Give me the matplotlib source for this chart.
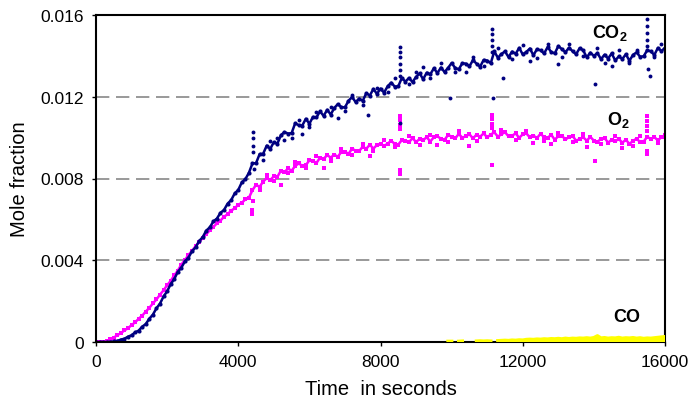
import numpy as np
import matplotlib
matplotlib.use("Agg")
import matplotlib.pyplot as plt

plt.rcParams['font.family'] = ['Liberation Sans', 'DejaVu Sans']
plt.rcParams['mathtext.fontset'] = 'custom'
plt.rcParams['mathtext.rm'] = 'Liberation Sans'
plt.rcParams['mathtext.bf'] = 'Liberation Sans:bold'

# =========================
# Data (mole fraction in units of 1e-5)
# =========================
time_s = [
    0, 100, 200, 300, 400, 500, 600, 700, 800, 900,
    1000, 1100, 1200, 1300, 1400, 1500, 1600, 1700, 1800, 1900,
    2000, 2100, 2200, 2300, 2400, 2500, 2600, 2700, 2800, 2900,
    3000, 3100, 3200, 3300, 3400, 3500, 3600, 3700, 3800, 3900,
    4000, 4100, 4200, 4300, 4400, 4500, 4600, 4700, 4800, 4900,
    5000, 5100, 5200, 5300, 5400, 5500, 5600, 5700, 5800, 5900,
    6000, 6100, 6200, 6300, 6400, 6500, 6600, 6700, 6800, 6900,
    7000, 7100, 7200, 7300, 7400, 7500, 7600, 7700, 7800, 7900,
    8000, 8100, 8200, 8300, 8400, 8500, 8600, 8700, 8800, 8900,
    9000, 9100, 9200, 9300, 9400, 9500, 9600, 9700, 9800, 9900,
    10000, 10100, 10200, 10300, 10400, 10500, 10600, 10700, 10800, 10900,
    11000, 11100, 11200, 11300, 11400, 11500, 11600, 11700, 11800, 11900,
    12000, 12100, 12200, 12300, 12400, 12500, 12600, 12700, 12800, 12900,
    13000, 13100, 13200, 13300, 13400, 13500, 13600, 13700, 13800, 13900,
    14000, 14100, 14200, 14300, 14400, 14500, 14600, 14700, 14800, 14900,
    15000, 15100, 15200, 15300, 15400, 15500, 15600, 15700, 15800, 15900,
    16000,
]

co2 = [
    0, 0, 0, 0, 1, 3, 5, 12, 16, 26,
    33, 47, 56, 75, 88, 114, 134, 165, 188, 223,
    248, 283, 308, 343, 364, 394, 413, 444, 463, 494,
    513, 545, 561, 590, 604, 632, 646, 677, 694, 727,
    744, 781, 797, 828, 874, 875, 919, 921, 961, 945,
    978, 970, 1012, 1027, 1020, 1022, 1070, 1061, 1059, 1092,
    1068, 1101, 1099, 1129, 1106, 1136, 1113, 1145, 1164, 1149,
    1148, 1180, 1199, 1174, 1191, 1180, 1217, 1206, 1238, 1214,
    1240, 1220, 1251, 1269, 1250, 1251, 1292, 1274, 1292, 1272,
    1297, 1314, 1286, 1318, 1310, 1339, 1316, 1343, 1321, 1341,
    1365, 1341, 1334, 1364, 1362, 1349, 1379, 1362, 1347, 1380,
    1377, 1364, 1422, 1391, 1409, 1422, 1394, 1421, 1410, 1439,
    1407, 1419, 1436, 1403, 1433, 1427, 1412, 1443, 1419, 1412,
    1448, 1433, 1418, 1440, 1423, 1408, 1438, 1427, 1393, 1416,
    1400, 1414, 1384, 1406, 1387, 1412, 1378, 1397, 1385, 1408,
    1376, 1405, 1417, 1396, 1398, 1428, 1422, 1405, 1439, 1423,
    1440,
]

o2 = [
    0, 0, 1, 5, 13, 21, 34, 43, 57, 67,
    83, 96, 114, 129, 149, 167, 189, 208, 232, 253,
    278, 299, 326, 349, 379, 401, 426, 446, 469, 488,
    510, 527, 547, 562, 581, 594, 613, 625, 643, 654,
    672, 681, 698, 706, 743, 769, 759, 785, 802, 792,
    811, 808, 839, 831, 849, 838, 861, 874, 862, 865,
    889, 885, 876, 902, 895, 915, 902, 917, 906, 931,
    932, 920, 946, 936, 934, 956, 945, 966, 946, 964,
    971, 958, 971, 984, 970, 966, 988, 985, 977, 998,
    978, 994, 988, 1002, 981, 1002, 1006, 995, 989, 1013,
    1005, 996, 1018, 1000, 1006, 1017, 996, 1015, 1004, 1021,
    1001, 1015, 1026, 1005, 1016, 1027, 1006, 1009, 1021, 999,
    1016, 1021, 1001, 1010, 998, 1019, 1002, 999, 1014, 990,
    1007, 1009, 991, 1002, 1009, 985, 993, 1002, 985, 1004,
    985, 979, 994, 999, 975, 990, 982, 994, 975, 990,
    969, 984, 995, 978, 981, 1004, 993, 1003, 986, 1003,
    1002,
]

# stray readings / spikes
co2_out_t = [4420, 4420, 4420, 4420, 4450, 5500, 5800, 6800, 7650,
             8550, 8550, 8550, 8550, 8550, 8550, 8550, 9200, 9950, 10400,
             11130, 11130, 11130, 11130, 11130, 11160, 11450, 12200, 13000,
             14030, 14500, 15490, 15490, 15490, 15490, 15490, 15510, 15580,
             4700, 4900, 5100, 5300, 5700, 6000, 6200, 6600, 7000, 7200,
             7500, 7900, 8200, 8400, 8800, 9000, 9400, 9700, 10100, 10600,
             10900, 11300, 11700, 12000, 12400, 12700, 13100, 13300, 13700,
             14100, 14300, 14700, 15000, 15200, 15700, 15900]
co2_out = [930, 960, 1000, 1027, 845, 1000, 1020, 1095, 1110,
           1300, 1330, 1360, 1395, 1420, 1441, 1072, 1345, 1195, 1320,
           1420, 1450, 1480, 1505, 1531, 1195, 1290, 1375, 1360,
           1260, 1350, 1450, 1480, 1510, 1545, 1580, 1335, 1300,
           890, 985, 1000, 990, 1085, 1050, 1125, 1150, 1130, 1210,
           1160, 1245, 1225, 1290, 1260, 1320, 1290, 1365, 1320, 1395,
           1350, 1440, 1385, 1455, 1390, 1460, 1395, 1458, 1400,
           1440, 1365, 1430, 1365, 1430, 1395, 1460]

o2_out_t = [4400, 4400, 4420, 5200, 6400, 7700, 8550, 8550, 8550, 8550,
            8550, 8550, 9600, 10500, 11130, 11130, 11130, 11130, 11140,
            12300, 12800, 13800, 14030, 14800, 15490, 15490, 15490,
            15490, 15480, 15500,
            4600, 4800, 5000, 5400, 5600, 5900, 6200, 6600, 6900, 7200,
            7500, 7800, 8100, 8400, 8800, 9100, 9400, 9900, 10200, 10700,
            11400, 11800, 12100, 12600, 13000, 13400, 13700, 14200, 14600,
            15100, 15300, 15800, 16000]
o2_out = [625, 645, 690, 770, 850, 910, 1107, 1085, 1060, 1040,
          840, 820, 965, 960, 1113, 1090, 1065, 1045, 866,
          975, 970, 955, 885, 950, 1105, 1080, 1055,
          1030, 935, 920,
          745, 815, 790, 825, 880, 850, 910, 885, 945, 915,
          970, 935, 990, 955, 1008, 965, 1015, 980, 1030, 985,
          1035, 990, 1032, 985, 1025, 978, 1018, 968, 1010,
          960, 1008, 975, 1015]

co_t = [9900, 10000, 10100, 10200, 10300, 10400, 10500, 10600, 10700, 10800,
        10900, 11000, 11100, 11200, 11300, 11400, 11500, 11600, 11700, 11800,
        11900, 12000, 12100, 12200, 12300, 12400, 12500, 12600, 12700, 12800,
        12900, 13000, 13100, 13200, 13300, 13400, 13500, 13600, 13700, 13800,
        13900, 14000, 14100, 14200, 14300, 14400, 14500, 14600, 14700, 14800,
        14900, 15000, 15100, 15200, 15300, 15400, 15500, 15600, 15700, 15800,
        15900, 16000]
co = [3, 3, np.nan, 3, 4, np.nan, np.nan, np.nan, 4, 5,
      4, 5, 4, np.nan, 6, 7, 8, 7, 9, 8,
      10, 9, 12, 13, 12, 14, 13, 15, 14, 16,
      15, 17, 15, 18, 16, 18, 17, 19, 18, 20,
      18, 21, 30, 19, 21, 18, 20, 19, 22, 18,
      20, 19, 21, 18, 20, 17, 19, 18, 20, 22,
      24, 26]

x_ticks = [0, 4000, 8000, 12000, 16000]
y_ticks = [0, 0.004, 0.008, 0.012, 0.016]
y_tick_labels = ["0", "0.004", "0.008", "0.012", "0.016"]

unit = 1e-5
navy = "#000080"
magenta = "#ff00ff"
yellow = "#ffff00"

# =========================
# Figure
# =========================
fig = plt.figure(figsize=(6.94, 4.02), dpi=100)
ax = fig.add_axes([96 / 694, 1 - 343 / 402, (665 - 96) / 694, (343 - 16) / 402])

for yv in y_ticks[1:4]:
    ax.axhline(yv, color="#888888", lw=1.2, ls=(0, (8, 4)), zorder=1)

ax.plot(time_s, np.array(o2) * unit, color=magenta, lw=1.8, marker="s",
        ms=2.8, mew=0, zorder=3)
ax.plot(o2_out_t, np.array(o2_out) * unit, ls="none", color=magenta,
        marker="s", ms=2.6, mew=0, zorder=3)
ax.plot(time_s, np.array(co2) * unit, color=navy, lw=1.8, marker="o",
        ms=3.0, mew=0, zorder=4)
ax.plot(co2_out_t, np.array(co2_out) * unit, ls="none", color=navy,
        marker="o", ms=2.8, mew=0, zorder=4)

co_v = np.array(co, dtype=float) * unit
ax.fill_between(co_t, 0, co_v, color=yellow, lw=0, zorder=7, clip_on=False)
ax.plot(co_t, co_v, color=yellow, lw=2.5, zorder=7)

ax.set_xlim(0, 16000)
ax.set_ylim(0, 0.016)
ax.set_xticks(x_ticks)
ax.set_xticklabels([str(v) for v in x_ticks])
ax.set_yticks(y_ticks)
ax.set_yticklabels(y_tick_labels)
ax.tick_params(direction="out", length=3, width=1, labelsize=12.5, pad=6,
               colors="black")

for s in ax.spines.values():
    s.set_linewidth(1.5)
    s.set_color("black")
    s.set_zorder(6)

ax.set_xlabel("Time  in seconds", fontsize=14.5, labelpad=7)
ax.set_ylabel("Mole fraction", fontsize=14.5, labelpad=8)

ax.text(14450, 0.01515, r"$\mathbf{CO_2}$", fontsize=13, ha="center", va="center")
ax.text(14680, 0.01092, r"$\mathbf{O_2}$", fontsize=13, ha="center", va="center")
ax.text(14930, 0.00123, "CO", fontsize=13, fontweight="bold", ha="center", va="center")

fig.savefig("out.png", dpi=100)
